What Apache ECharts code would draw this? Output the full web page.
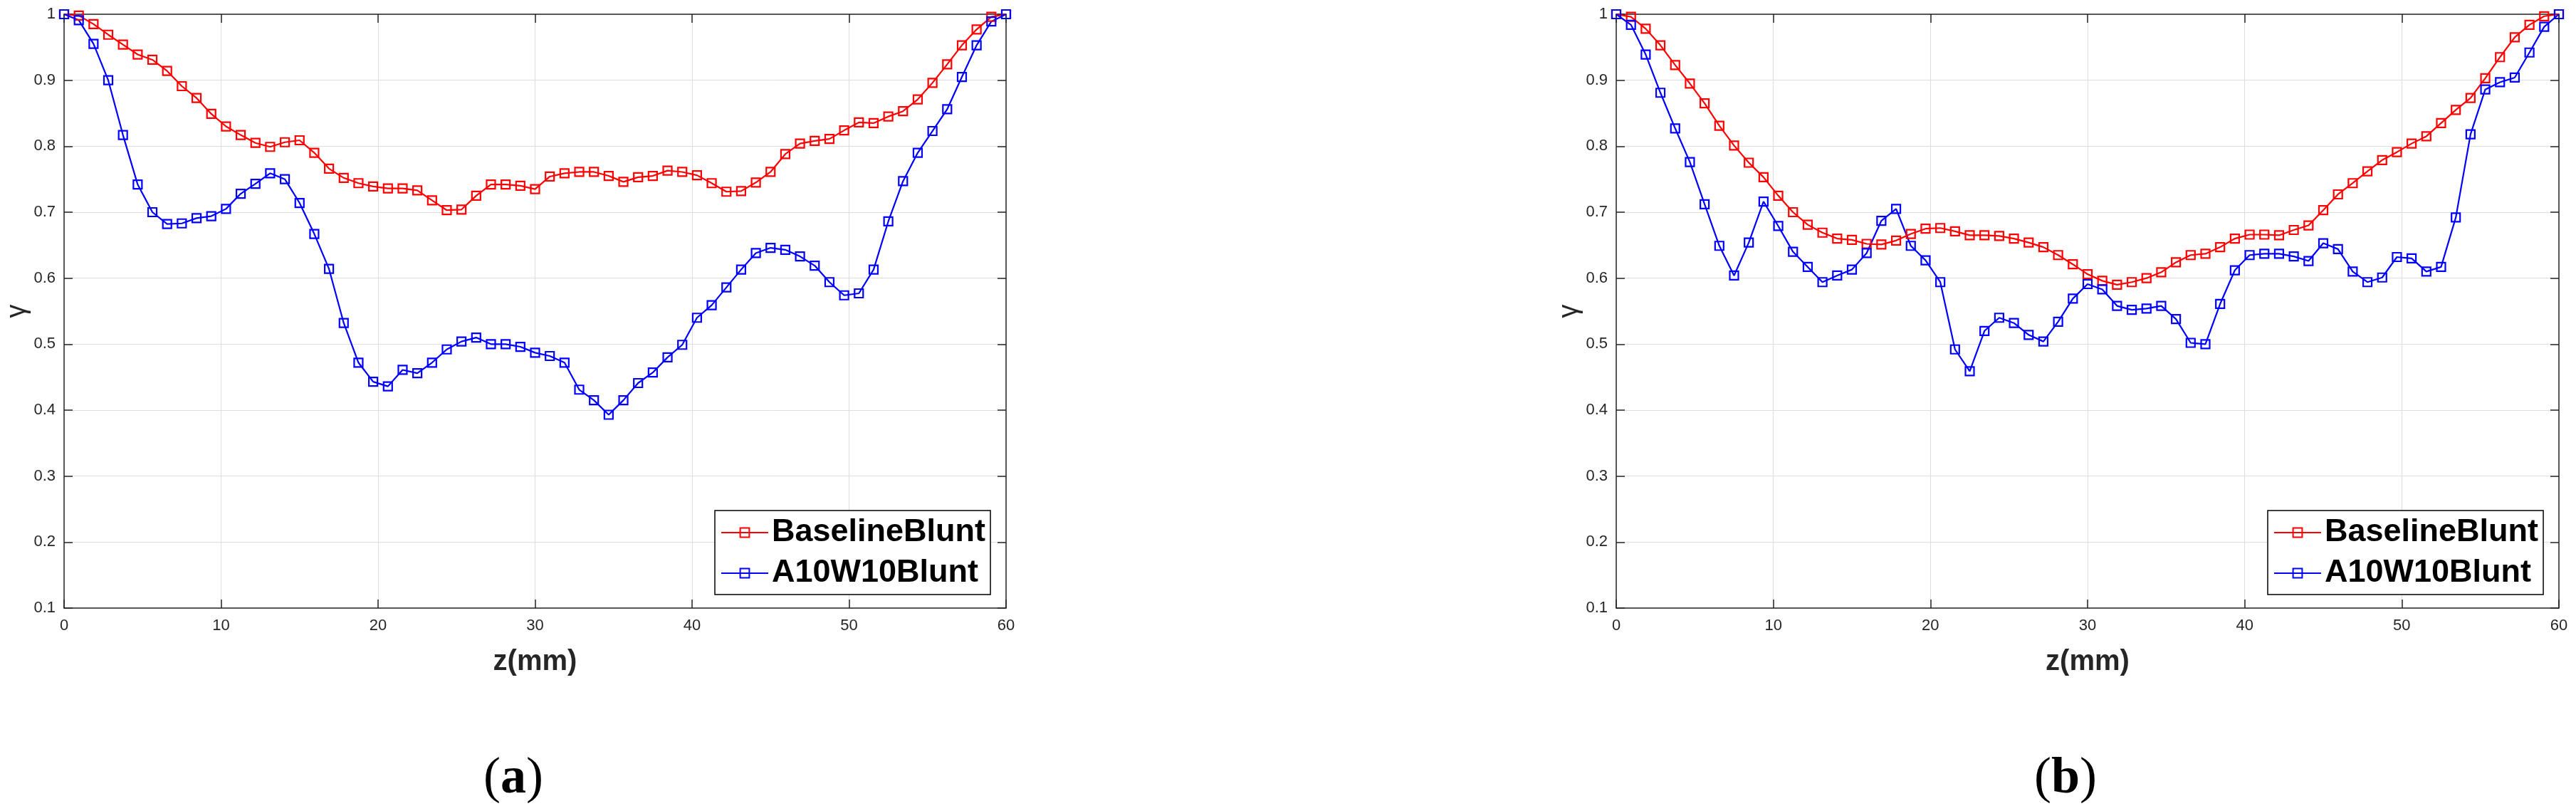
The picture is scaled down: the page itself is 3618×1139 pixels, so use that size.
<!DOCTYPE html>
<html>
<head>
<meta charset="utf-8">
<title>gamma vs z</title>
<script src="https://cdn.jsdelivr.net/npm/echarts@6/dist/echarts.min.js"></script>
<style>
  html, body { margin: 0; padding: 0; background: #fff; }
  #chart { width: 3618px; height: 1139px; }
</style>
</head>
<body>
<div id="chart"></div>
<script>
// sample positions along z (mm)
var zPos = [0, 0.9375, 1.875, 2.8125, 3.75, 4.6875, 5.625, 6.5625, 7.5, 8.4375,
  9.375, 10.3125, 11.25, 12.1875, 13.125, 14.0625, 15, 15.9375, 16.875, 17.8125,
  18.75, 19.6875, 20.625, 21.5625, 22.5, 23.4375, 24.375, 25.3125, 26.25, 27.1875,
  28.125, 29.0625, 30, 30.9375, 31.875, 32.8125, 33.75, 34.6875, 35.625, 36.5625,
  37.5, 38.4375, 39.375, 40.3125, 41.25, 42.1875, 43.125, 44.0625, 45, 45.9375,
  46.875, 47.8125, 48.75, 49.6875, 50.625, 51.5625, 52.5, 53.4375, 54.375, 55.3125,
  56.25, 57.1875, 58.125, 59.0625, 60];

// (a)
var baselineA = [1.0, 0.998, 0.985, 0.969, 0.954, 0.939, 0.931, 0.914, 0.891, 0.873,
  0.849, 0.830, 0.817, 0.805, 0.799, 0.806, 0.809, 0.790, 0.766, 0.752,
  0.744, 0.739, 0.736, 0.736, 0.733, 0.718, 0.703, 0.704, 0.725, 0.742,
  0.742, 0.740, 0.735, 0.754, 0.759, 0.761, 0.761, 0.755, 0.746, 0.753,
  0.755, 0.763, 0.761, 0.756, 0.744, 0.731, 0.732, 0.745, 0.761, 0.788,
  0.804, 0.808, 0.811, 0.824, 0.836, 0.835, 0.845, 0.853, 0.871, 0.896,
  0.924, 0.953, 0.977, 0.996, 1.0];
var a10w10A = [1.0, 0.991, 0.955, 0.900, 0.817, 0.742, 0.700, 0.682, 0.683, 0.691,
  0.694, 0.705, 0.728, 0.743, 0.759, 0.750, 0.714, 0.667, 0.614, 0.532,
  0.472, 0.443, 0.436, 0.461, 0.456, 0.472, 0.492, 0.504, 0.510, 0.500,
  0.500, 0.496, 0.487, 0.482, 0.472, 0.431, 0.415, 0.393, 0.415, 0.441,
  0.457, 0.480, 0.499, 0.540, 0.559, 0.586, 0.613, 0.638, 0.646, 0.643,
  0.633, 0.619, 0.594, 0.574, 0.577, 0.613, 0.686, 0.747, 0.790, 0.823,
  0.856, 0.905, 0.953, 0.989, 1.0];

// (b)
var baselineB = [1.0, 0.996, 0.978, 0.953, 0.923, 0.895, 0.865, 0.831, 0.801, 0.775,
  0.753, 0.725, 0.700, 0.681, 0.669, 0.660, 0.658, 0.652, 0.651, 0.657,
  0.667, 0.675, 0.676, 0.671, 0.665, 0.665, 0.664, 0.660, 0.654, 0.647,
  0.635, 0.621, 0.606, 0.596, 0.590, 0.594, 0.600, 0.609, 0.624, 0.635,
  0.637, 0.647, 0.660, 0.666, 0.666, 0.665, 0.673, 0.680, 0.703, 0.727,
  0.744, 0.762, 0.779, 0.791, 0.804, 0.815, 0.835, 0.855, 0.873, 0.903,
  0.935, 0.965, 0.984, 0.997, 1.0];
var a10w10B = [1.0, 0.984, 0.939, 0.881, 0.827, 0.776, 0.712, 0.649, 0.604, 0.654,
  0.716, 0.679, 0.640, 0.617, 0.594, 0.604, 0.613, 0.638, 0.687, 0.705,
  0.649, 0.627, 0.594, 0.492, 0.459, 0.520, 0.540, 0.532, 0.514, 0.504,
  0.534, 0.569, 0.591, 0.583, 0.558, 0.552, 0.554, 0.558, 0.538, 0.502,
  0.500, 0.561, 0.612, 0.635, 0.637, 0.637, 0.633, 0.626, 0.653, 0.644,
  0.610, 0.594, 0.601, 0.632, 0.630, 0.610, 0.617, 0.692, 0.818, 0.886,
  0.897, 0.904, 0.942, 0.981, 1.0];

var legendNames = ['BaselineBlunt', 'A10W10Blunt'];
var panelLabels = ['a', 'b'];

var sansFont = "'Liberation Sans', Arial, Helvetica, sans-serif";
var axisColor = '#262626';
var gridColor = '#dedede';

function pairs(vals) {
  return vals.map(function (v, i) { return [zPos[i], v]; });
}

function xAxisPair(gridIndex) {
  return [
    {
      gridIndex: gridIndex, type: 'value', min: 0, max: 60, interval: 10,
      axisLine: { show: true, onZero: false, lineStyle: { color: axisColor, width: 1.5 } },
      axisTick: { show: true, inside: true, length: 12, lineStyle: { color: axisColor, width: 1.5 } },
      axisLabel: { margin: 14, fontSize: 22, color: axisColor, fontFamily: sansFont },
      splitLine: { show: true, lineStyle: { color: gridColor, width: 1 } },
      name: 'z(mm)', nameLocation: 'middle', nameGap: 56,
      nameTextStyle: { fontSize: 40, fontWeight: 'bold', color: axisColor, fontFamily: sansFont }
    },
    {
      gridIndex: gridIndex, type: 'value', min: 0, max: 60, interval: 10, position: 'top',
      axisLine: { show: true, onZero: false, lineStyle: { color: axisColor, width: 1.5 } },
      axisTick: { show: true, inside: true, length: 12, lineStyle: { color: axisColor, width: 1.5 } },
      axisLabel: { show: false },
      splitLine: { show: false }
    }
  ];
}

function yAxisPair(gridIndex, gap) {
  return [
    {
      gridIndex: gridIndex, type: 'value', min: 0.1, max: 1, interval: 0.1,
      axisLine: { show: true, onZero: false, lineStyle: { color: axisColor, width: 1.5 } },
      axisTick: { show: true, inside: true, length: 12, lineStyle: { color: axisColor, width: 1.5 } },
      axisLabel: {
        margin: 12, fontSize: 22, color: axisColor, fontFamily: sansFont,
        formatter: function (v) { return String(+v.toFixed(1)); }
      },
      splitLine: { show: true, lineStyle: { color: gridColor, width: 1 } },
      name: 'γ', nameLocation: 'middle', nameGap: gap,
      nameTextStyle: { fontSize: 38, color: axisColor, fontFamily: sansFont }
    },
    {
      gridIndex: gridIndex, type: 'value', min: 0.1, max: 1, interval: 0.1, position: 'right',
      axisLine: { show: true, onZero: false, lineStyle: { color: axisColor, width: 1.5 } },
      axisTick: { show: true, inside: true, length: 12, lineStyle: { color: axisColor, width: 1.5 } },
      axisLabel: { show: false },
      splitLine: { show: false }
    }
  ];
}

function lineSeries(name, color, vals, axisIndex) {
  return {
    name: name,
    type: 'line',
    xAxisIndex: axisIndex,
    yAxisIndex: axisIndex,
    data: pairs(vals),
    symbol: 'rect',
    symbolSize: 12,
    showAllSymbol: true,
    lineStyle: { color: color, width: 2.2 },
    itemStyle: { color: 'rgba(0,0,0,0)', borderColor: color, borderWidth: 2.2 },
    emphasis: { disabled: true }
  };
}

function legendBox(left) {
  return {
    left: left, top: 717, orient: 'vertical',
    data: legendNames,
    itemWidth: 66, itemHeight: 16, itemGap: 7,
    padding: [6, 7, 5, 8],
    backgroundColor: '#fff', borderColor: '#000', borderWidth: 1.5,
    selectedMode: false,
    textStyle: { fontSize: 45, fontWeight: 'bold', color: '#000', fontFamily: sansFont, lineHeight: 50 }
  };
}

function panelCaption(x, letter) {
  return {
    type: 'text', x: x, y: 1094,
    style: {
      text: '{n|(}{b|' + letter + '}{n|)}',
      align: 'center', verticalAlign: 'middle',
      rich: {
        n: { fontSize: 72, fontFamily: "'Liberation Serif', 'Times New Roman', serif", fill: '#000' },
        b: { fontSize: 72, fontWeight: 'bold', fontFamily: "'Liberation Serif', 'Times New Roman', serif", fill: '#000' }
      }
    }
  };
}

var myChart = echarts.init(document.getElementById('chart'));

var chartOption = {
  backgroundColor: '#fff',
  animation: false,
  grid: [
    { left: 90, top: 20, width: 1323, height: 834 },
    { left: 2270, top: 20, width: 1324, height: 834 }
  ],
  xAxis: xAxisPair(0).concat(xAxisPair(1)),
  yAxis: yAxisPair(0, 46).concat(yAxisPair(1, 44)),
  legend: [legendBox(1004), legendBox(3185)],
  series: [
    lineSeries(legendNames[0], '#ff0000', baselineA, 0),
    lineSeries(legendNames[1], '#0000ff', a10w10A, 0),
    lineSeries(legendNames[0], '#ff0000', baselineB, 2),
    lineSeries(legendNames[1], '#0000ff', a10w10B, 2)
  ],
  graphic: [
    panelCaption(721, panelLabels[0]),
    panelCaption(2901, panelLabels[1])
  ]
};

myChart.setOption(chartOption);
</script>
</body>
</html>
